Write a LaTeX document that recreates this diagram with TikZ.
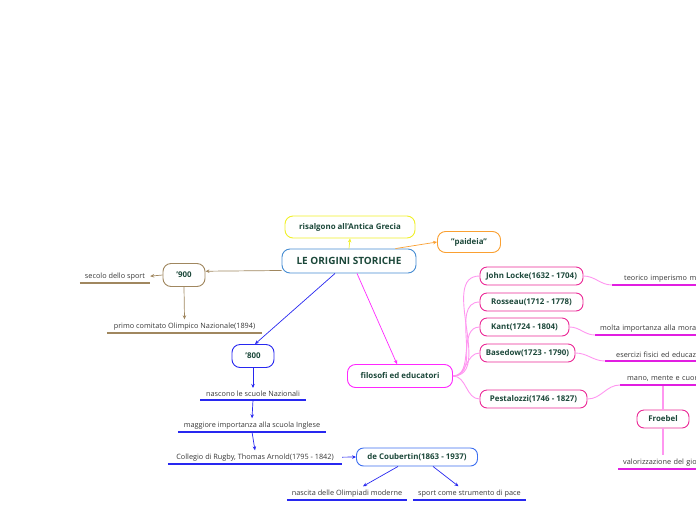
\documentclass[tikz,border=0pt]{standalone}
\usepackage{fontspec}
\setmainfont{Open Sans}
\usetikzlibrary{arrows.meta,positioning}

\definecolor{txtgreen}{RGB}{28,72,58}
\definecolor{leafgray}{RGB}{55,55,55}
\definecolor{mainblue}{RGB}{70,140,210}
\definecolor{grecyellow}{RGB}{240,240,40}
\definecolor{paidorange}{RGB}{250,160,50}
\definecolor{brownline}{RGB}{160,135,95}
\definecolor{blueline}{RGB}{40,40,240}
\definecolor{coubblue}{RGB}{60,110,240}
\definecolor{filmag}{RGB}{255,40,255}
\definecolor{pinkbox}{RGB}{235,40,150}
\definecolor{pinkbranch}{RGB}{255,150,240}
\definecolor{leafmag}{RGB}{225,30,225}

\tikzset{
  topic/.style={draw, rounded corners=8pt, line width=0.9pt, fill=white, text=txtgreen,
    font=\fontsize{7.9}{9}\selectfont\bfseries, minimum height=22pt, inner xsep=3pt},
  subtopic/.style={topic, rounded corners=7pt, minimum height=18pt},
  leaf/.style={inner xsep=0pt, inner ysep=3pt, anchor=south, text=leafgray,
    font=\fontsize{7.3}{8}\selectfont},
  cutleaf/.style={leaf, anchor=south west, text width=150pt, align=left, inner xsep=#1},
  tip/.style={-{Stealth[length=4pt,width=3.5pt]}, line width=0.7pt},
  uline/.style={line width=1.2pt},
  branch/.style={pinkbranch, line width=0.9pt},
}

\begin{document}
\begin{tikzpicture}[x=1pt, y=-1pt]
  \clip (0,0) rectangle (696,520);

  % centro
  \node[topic, draw=mainblue, minimum width=134, minimum height=24,
    font=\fontsize{10}{11}\selectfont\bfseries] (origini) at (349,261) {LE ORIGINI STORICHE};
  \node[topic, draw=grecyellow, minimum width=130] (grecia) at (350,227) {risalgono all'Antica Grecia};
  \node[topic, draw=paidorange, minimum width=63, minimum height=21] (paideia) at (469,242) {"paideia"};
  \draw[tip, grecyellow] (origini.north) -- (grecia.south);
  \draw[tip, paidorange] (origini.15) -- (paideia.west);

  % '900
  \node[topic, draw=brownline, minimum width=42, minimum height=23] (n900) at (184,275) {'900};
  \draw[tip, brownline] (origini.188) -- (n900.10);
  \node[leaf, minimum width=70] (secolo) at (115,283) {secolo dello sport};
  \draw[brownline, uline] (secolo.south west) -- (secolo.south east);
  \draw[tip, brownline] (n900.west) -- (secolo.east);
  \node[leaf, minimum width=155] (comitato) at (184.5,333) {primo comitato Olimpico Nazionale(1894)};
  \draw[brownline, uline] (comitato.south west) -- (comitato.south east);
  \draw[tip, brownline] (n900.south) -- (comitato.north);

  % '800
  \node[topic, draw=blueline, minimum width=42, minimum height=23] (n800) at (253,356) {'800};
  \draw[tip, blueline] ([xshift=-14pt]origini.south) -- ([xshift=2pt]n800.north);
  \node[leaf, minimum width=105] (nazionali) at (253,400) {nascono le scuole Nazionali};
  \node[leaf, minimum width=148] (inglese) at (252,432) {maggiore importanza alla scuola Inglese};
  \node[leaf, minimum width=174] (rugby) at (255,464) {Collegio di Rugby, Thomas Arnold(1795 - 1842)};
  \node[subtopic, draw=coubblue, minimum width=121] (coubertin) at (417,457) {de Coubertin(1863 - 1937)};
  \node[leaf, minimum width=120] (olimpiadi) at (347,500) {nascita delle Olimpiadi moderne};
  \node[leaf, minimum width=113] (pace) at (469.5,500) {sport come strumento di pace};
  \foreach \n in {nazionali,inglese,rugby,olimpiadi,pace}
    \draw[blueline, uline] (\n.south west) -- (\n.south east);
  \draw[tip, blueline] (n800.south) -- (nazionali.north);
  \draw[tip, blueline] (nazionali.south) -- (inglese.north);
  \draw[tip, blueline] (inglese.south) -- (rugby.north);
  \draw[tip, blueline] (rugby.east) -- (coubertin.west);
  \draw[tip, blueline] ([xshift=-19pt]coubertin.south) -- ([xshift=16pt]olimpiadi.north);
  \draw[tip, blueline] ([xshift=16pt]coubertin.south) -- ([xshift=-11pt]pace.north);

  % filosofi
  \node[topic, draw=filmag, minimum width=105, minimum height=23] (filosofi) at (400,376) {filosofi ed educatori};
  \draw[tip, filmag] ([xshift=8pt]origini.south) -- ([xshift=-3pt]filosofi.north);
  \node[subtopic, draw=pinkbox, minimum width=103] (locke) at (531.5,276) {John Locke(1632 - 1704)};
  \node[subtopic, draw=pinkbox, minimum width=103] (rosseau) at (531.5,302) {Rosseau(1712 - 1778)};
  \node[subtopic, draw=pinkbox, minimum width=89] (kant) at (524.5,327) {Kant(1724 - 1804)};
  \node[subtopic, draw=pinkbox, minimum width=95] (basedow) at (527.5,353) {Basedow(1723 - 1790)};
  \node[subtopic, draw=pinkbox, minimum width=107] (pestalozzi) at (533.5,399) {Pestalozzi(1746 - 1827)};
  \foreach \n in {locke,rosseau,kant,basedow,pestalozzi}
    \draw[branch] (filosofi.east) to[out=0,in=180] (\n.west);

  \node[cutleaf=12pt] (empirismo) at (612,285) {teorico imperismo m};
  \node[cutleaf=5pt] (morale) at (595,335) {molta importanza alla mora};
  \node[cutleaf=11pt] (esercizi) at (605,361) {esercizi fisici ed educaz};
  \node[cutleaf=7pt] (mano) at (620,385) {mano, mente e cuor};
  \node[cutleaf=5pt] (valor) at (618,469) {valorizzazione del gio};
  \foreach \n in {empirismo,morale,esercizi,mano,valor}
    \draw[leafmag, uline] (\n.south west) -- (\n.south east);
  \draw[branch] (locke.east) to[out=0,in=180] (empirismo.south west);
  \draw[branch] (kant.east) to[out=0,in=180] (morale.south west);
  \draw[branch] (basedow.east) to[out=0,in=180] (esercizi.south west);
  \draw[branch] (pestalozzi.east) to[out=0,in=180] (mano.south west);

  \node[subtopic, draw=pinkbox, minimum width=52] (froebel) at (663,419) {Froebel};
  \draw[branch, line width=1.3pt] (froebel.north) -- ([yshift=-1pt]froebel.north |- mano.south);
  \draw[branch, line width=1.3pt] (froebel.south) -- (froebel.south |- valor.north);
\end{tikzpicture}
\end{document}
